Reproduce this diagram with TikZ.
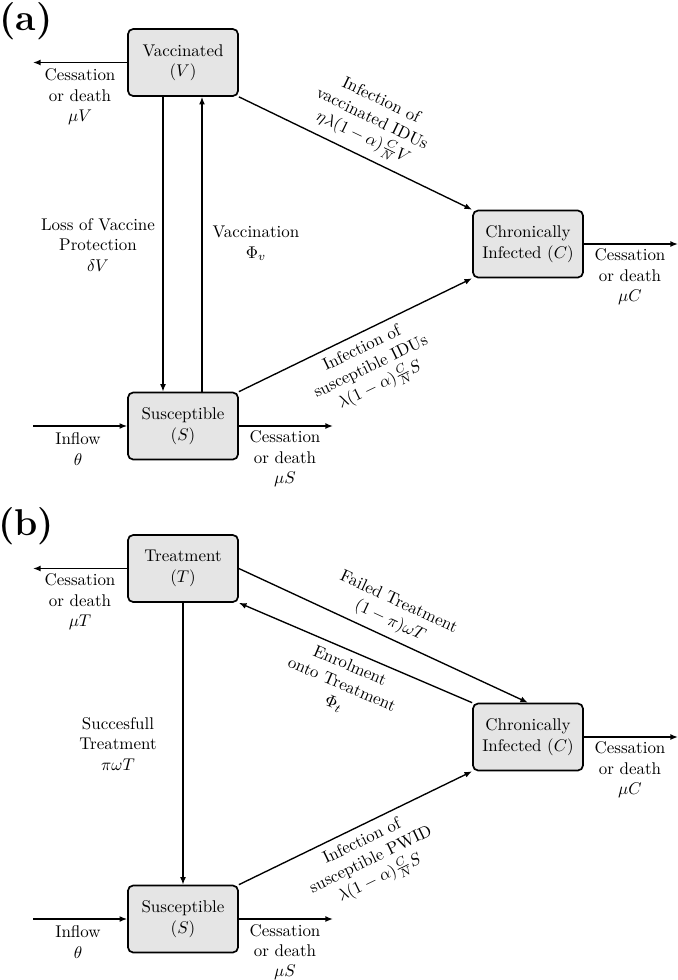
\documentclass[tikz,border=0pt]{standalone}
\usetikzlibrary{arrows.meta,calc}
\begin{document}
\begin{tikzpicture}[x=0.59pt,y=-0.59pt,
  box/.style={draw, line width=1pt, rounded corners=3pt, fill=black!10,
    minimum width=64.9pt, minimum height=39.5pt, align=center, inner sep=2pt},
  flow/.style={line width=0.8pt, -{Latex[length=4.5pt,width=3.5pt]}},
  lbl/.style={align=center, inner sep=2pt},
  slbl/.style={align=center, inner sep=4pt, sloped, midway},
  panel/.style={font=\fontsize{22}{27}\selectfont\bfseries, inner sep=0pt}]
\useasboundingbox (0,0) rectangle (678,980);

% ---------------- panel (a)
\node[panel] (pa) at (26,21.5) {(a)};
\node[box] (V) at (183,62.5) {Vaccinated\\$(V)$};
\node[box] (S) at (183,426) {Susceptible\\$(S)$};
\node[box] (C) at (528,244) {Chronically\\Infected $(C)$};

\coordinate (vout) at (33,62.5);
\coordinate (sin) at (33,426);
\coordinate (sout) at (333,426);
\coordinate (cout) at (678,244);

\draw[flow] (V.west) -- (vout);
\draw[flow] (sin) -- (S.west);
\draw[flow] (S.east) -- (sout);
\draw[flow] (C.east) -- (cout);
\draw[flow] ($(V.south)+(-20,0)$) -- ($(S.north)+(-20,0)$);
\draw[flow] ($(S.north)+(19,0)$) -- ($(V.south)+(19,0)$);
\draw[flow] (V.south east) -- node[slbl, above]{Infection of\\vaccinated IDUs\\$\eta\lambda(1-\alpha)\frac{C}{N}V$} (C.north west);
\draw[flow] (S.north east) -- node[slbl, below]{Infection of\\susceptible IDUs\\$\lambda(1-\alpha)\frac{C}{N}S$} (C.south west);

\node[lbl] (lvout) at (80,97) {Cessation\\or death\\$\mu V$};
\node[lbl] (lloss) at (98,245) {Loss of Vaccine\\Protection\\$\delta V$};
\node[lbl] (lvacc) at (256,243.5) {Vaccination\\$\Phi_v$};
\node[lbl] (lsin) at (78,449) {Inflow\\$\theta$};
\node[lbl] (lsout) at (285,459) {Cessation\\or death\\$\mu S$};
\node[lbl] (lcout) at (630,277) {Cessation\\or death\\$\mu C$};

% ---------------- panel (b)
\node[panel] (pb) at (26,526) {(b)};
\node[box] (T) at (183,568.5) {Treatment\\$(T)$};
\node[box] (S2) at (183,919) {Susceptible\\$(S)$};
\node[box] (C2) at (528,737) {Chronically\\Infected $(C)$};

\coordinate (tout) at (33,568.5);
\coordinate (s2in) at (33,919);
\coordinate (s2out) at (333,919);
\coordinate (c2out) at (678,737);

\draw[flow] (T.west) -- (tout);
\draw[flow] (s2in) -- (S2.west);
\draw[flow] (S2.east) -- (s2out);
\draw[flow] (C2.east) -- (c2out);
\draw[flow] (T.south) -- (S2.north);
\draw[flow] (T.east) -- node[slbl, above]{Failed Treatment\\$(1-\pi)\omega T$} (C2.north);
\draw[flow] (C2.north west) -- node[slbl, below]{Enrolment\\onto Treatment\\$\Phi_t$} (T.south east);
\draw[flow] (S2.north east) -- node[slbl, below]{Infection of\\susceptible PWID\\$\lambda(1-\alpha)\frac{C}{N}S$} (C2.south west);

\node[lbl] (ltout) at (80,602) {Cessation\\or death\\$\mu T$};
\node[lbl] (lsucc) at (118,744) {Succesfull\\Treatment\\$\pi\omega T$};
\node[lbl] (ls2in) at (78,942) {Inflow\\$\theta$};
\node[lbl] (ls2out) at (285,952) {Cessation\\or death\\$\mu S$};
\node[lbl] (lc2out) at (630,770) {Cessation\\or death\\$\mu C$};
\end{tikzpicture}
\end{document}
